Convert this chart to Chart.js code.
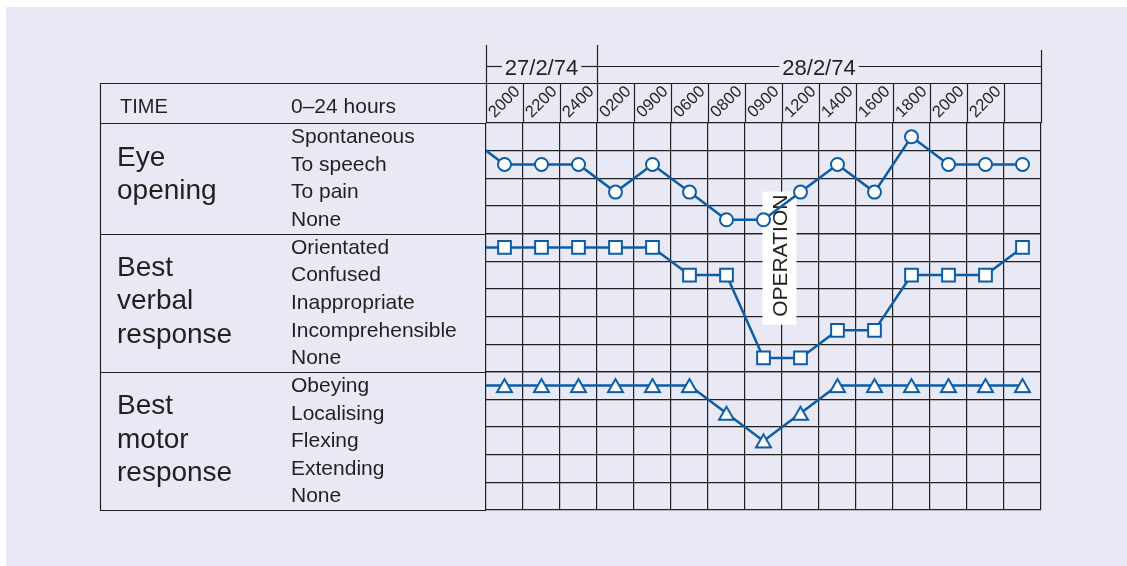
<!DOCTYPE html>
<html>
<head>
<meta charset="utf-8">
<title>Glasgow coma chart</title>
<script src="https://cdn.jsdelivr.net/npm/chart.js@4.4.1/dist/chart.umd.min.js"></script>
<style>
  html, body { margin: 0; padding: 0; background: #fff; }
  canvas { display: block; }
</style>
</head>
<body>
<canvas id="gcs" width="1127" height="566"></canvas>
<script>
// --- chart data ---
const times = ['2000', '2200', '2400', '0200', '0900', '0600', '0800', '0900', '1200', '1400', '1600', '1800', '2000', '2200', ''];
const dates = ['27/2/74', '28/2/74'];
const dateStarts = [0, 3];          // column where each date begins

const eyeLevels = ['Spontaneous', 'To speech', 'To pain', 'None'];                              // scores 4..1
const verbalLevels = ['Orientated', 'Confused', 'Inappropriate', 'Incomprehensible', 'None'];   // scores 5..1
const motorLevels = ['Obeying', 'Localising', 'Flexing', 'Extending', 'None'];                  // scores 5..1

// first value is the last reading carried over from the previous sheet (runs off the left edge)
const eyeScores = [4, 3, 3, 3, 2, 3, 2, 1, 1, 2, 3, 2, 4, 3, 3, 3];
const verbalScores = [5, 5, 5, 5, 5, 5, 4, 4, 1, 1, 2, 2, 4, 4, 4, 5];
const motorScores = [5, 5, 5, 5, 5, 5, 5, 4, 3, 4, 5, 5, 5, 5, 5, 5];

const sectionTitles = [['Eye', 'opening'], ['Best', 'verbal', 'response'], ['Best', 'motor', 'response']];
const operationAt = 8;       // between the 0900 and 1200 readings
const operationLevel = 4.7;  // vertical centre, on the verbal scale

const INK = '#231f20';
const BLUE = '#0d5ca6';
const PANEL = '#e9e9f5';
const FONT = '"Liberation Sans", Arial, sans-serif';

const toPoints = scores => scores.map((v, i) => ({ x: i - 0.5, y: v }));
const crisp = v => Math.round(v) + 0.5;

// triangle marker centred on its own box, so the line passes through the middle
function triangleMarker(size) {
    const c = document.createElement('canvas');
    c.width = size + 6; c.height = size + 6;
    const g = c.getContext('2d');
    const h = size * 0.87;
    g.beginPath();
    g.moveTo(c.width / 2, (c.height - h) / 2);
    g.lineTo(c.width / 2 + size / 2, (c.height + h) / 2);
    g.lineTo(c.width / 2 - size / 2, (c.height + h) / 2);
    g.closePath();
    g.fillStyle = '#fff';
    g.fill();
    g.lineWidth = 2;
    g.strokeStyle = BLUE;
    g.stroke();
    return c;
}

// grid lines sit on the row boundaries, not on the scores
const rowTicks = n => scale => {
    scale.ticks = [];
    for (let v = 0.5; v <= n + 0.5; v++) scale.ticks.push({ value: v });
};

const sectionAxis = (n, weight) => ({
    type: 'linear', position: 'left', stack: 'gcs', stackWeight: n, weight,
    min: 0.5, max: n + 0.5,
    afterBuildTicks: rowTicks(n),
    ticks: { display: false },
    grid: { color: INK, lineWidth: 1.2, drawTicks: false },
    border: { display: false }
});

function line(ctx, x1, y1, x2, y2) {
    ctx.beginPath();
    ctx.moveTo(x1, y1);
    ctx.lineTo(x2, y2);
    ctx.stroke();
}

// --- table frame, headings and labels ---
const chartSheet = {
    id: 'chartSheet',
    beforeDraw(chart) {
        const { ctx, width, height } = chart;
        ctx.save();
        ctx.fillStyle = '#fff';
        ctx.fillRect(0, 0, width, height);
        ctx.fillStyle = PANEL;
        ctx.fillRect(6, 7, width - 6, height - 7);
        ctx.restore();
    },
    beforeDatasetsDraw(chart) {
        const { ctx, chartArea: area, scales } = chart;
        const x = scales.x;
        const sections = [scales.yEye, scales.yVerbal, scales.yMotor];
        const levels = [eyeLevels, verbalLevels, motorLevels];
        const left = 100, titleX = 117, labelX = 291;
        const headTop = area.top - 40;

        ctx.save();
        ctx.strokeStyle = INK;
        ctx.lineWidth = 1.2;

        // outer frame of the label column and header
        line(ctx, left, crisp(headTop), area.right, crisp(headTop));
        line(ctx, crisp(left), headTop, crisp(left), area.bottom);
        sections.forEach(s => line(ctx, left, crisp(s.top), area.left, crisp(s.top)));
        line(ctx, left, crisp(area.bottom), area.left, crisp(area.bottom));

        // column lines through the time row (taller ones frame the dates)
        for (let i = 0; i <= times.length; i++) {
            const cx = crisp(x.getPixelForValue(i));
            let top = headTop;
            if (dateStarts.includes(i)) top = headTop - 38;
            if (i === times.length) top = headTop - 33;
            line(ctx, cx, top, cx, area.top);
        }

        ctx.fillStyle = INK;

        // dates with bracket lines either side
        ctx.font = '22px ' + FONT;
        ctx.textAlign = 'center';
        ctx.textBaseline = 'alphabetic';
        dates.forEach((d, k) => {
            const x0 = x.getPixelForValue(dateStarts[k]);
            const x1 = x.getPixelForValue(k + 1 < dates.length ? dateStarts[k + 1] : times.length);
            const mid = (x0 + x1) / 2;
            const half = ctx.measureText(d).width / 2;
            ctx.fillText(d, mid, headTop - 8);
            line(ctx, x0, crisp(headTop - 17), mid - half - 3, crisp(headTop - 17));
            line(ctx, mid + half + 3, crisp(headTop - 17), x1, crisp(headTop - 17));
        });

        // times, rotated 45 degrees in each column
        ctx.font = '16.5px ' + FONT;
        ctx.textBaseline = 'middle';
        times.forEach((t, i) => {
            if (!t) return;
            ctx.save();
            ctx.translate(x.getPixelForValue(i + 0.5), headTop + 19);
            ctx.rotate(-Math.PI / 4);
            ctx.fillText(t, 0, 0);
            ctx.restore();
        });

        ctx.textAlign = 'left';
        ctx.textBaseline = 'alphabetic';
        ctx.font = '20px ' + FONT;
        ctx.fillText('TIME', 120, headTop + 30);
        ctx.font = '21px ' + FONT;
        ctx.fillText('0\u201324 hours', labelX, headTop + 30);

        // section titles and response levels
        sections.forEach((s, k) => {
            ctx.font = '28px ' + FONT;
            ctx.textBaseline = 'alphabetic';
            sectionTitles[k].forEach((w, j) => ctx.fillText(w, titleX, s.top + 42.5 + j * 33.3));
            ctx.font = '21px ' + FONT;
            ctx.textBaseline = 'middle';
            levels[k].forEach((name, j) => {
                const score = levels[k].length - j;
                ctx.fillText(name, labelX, s.getPixelForValue(score) + 0.5);
            });
        });

        // operation marker
        const ox = x.getPixelForValue(operationAt);
        const oy = scales.yVerbal.getPixelForValue(operationLevel);
        ctx.font = '21px ' + FONT;
        const half = ctx.measureText('OPERATION').width / 2;
        ctx.fillStyle = '#fff';
        ctx.fillRect(ox - 19.5, oy - half - 3, 34, half * 2 + 11);
        ctx.fillStyle = INK;
        ctx.translate(ox - 1, oy);
        ctx.rotate(-Math.PI / 2);
        ctx.textAlign = 'center';
        ctx.textBaseline = 'middle';
        ctx.fillText('OPERATION', 0, 0);
        ctx.restore();
    }
};

const seriesStyle = {
    borderColor: BLUE,
    borderWidth: 2.5,
    pointBackgroundColor: '#fff',
    pointBorderColor: BLUE,
    pointBorderWidth: 2,
    tension: 0
};

new Chart(document.getElementById('gcs'), {
    type: 'line',
    data: {
        datasets: [
            { ...seriesStyle, label: 'Eye opening', data: toPoints(eyeScores), yAxisID: 'yEye', pointStyle: 'circle', pointRadius: 6.5 },
            { ...seriesStyle, label: 'Best verbal response', data: toPoints(verbalScores), yAxisID: 'yVerbal', pointStyle: 'rect', pointRadius: 9 },
            { ...seriesStyle, label: 'Best motor response', data: toPoints(motorScores), yAxisID: 'yMotor', pointStyle: triangleMarker(15), pointRadius: 8 }
        ]
    },
    options: {
        responsive: false,
        animation: false,
        devicePixelRatio: 1,
        events: [],
        layout: { padding: { left: 486, top: 123, right: 86, bottom: 56 } },
        plugins: { legend: { display: false }, tooltip: { enabled: false } },
        scales: {
            x: {
                type: 'linear', min: 0, max: times.length,
                afterBuildTicks: scale => { scale.ticks = times.map((t, i) => ({ value: i })).concat([{ value: times.length }]); },
                ticks: { display: false },
                grid: { color: INK, lineWidth: 1.2, drawTicks: false },
                border: { display: false }
            },
            yEye: sectionAxis(eyeLevels.length, 3),
            yVerbal: sectionAxis(verbalLevels.length, 2),
            yMotor: sectionAxis(motorLevels.length, 1)
        }
    },
    plugins: [chartSheet]
});
</script>
</body>
</html>
